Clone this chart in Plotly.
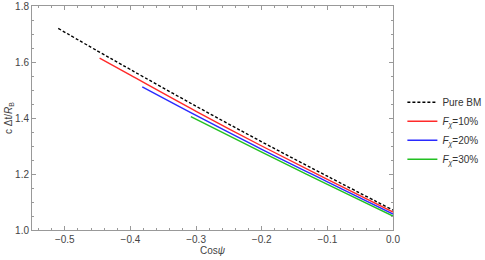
import plotly.graph_objects as go

# Pure BM
bm_x = [-0.51, -0.45, -0.40, -0.30, -0.20, -0.10, 0.00]
bm_y = [1.720, 1.639, 1.573, 1.442, 1.315, 1.192, 1.071]
# F_chi = 10%
f10_x = [-0.447, -0.40, -0.30, -0.20, -0.10, 0.00]
f10_y = [1.614, 1.553, 1.424, 1.300, 1.181, 1.064]
# F_chi = 20%
f20_x = [-0.382, -0.30, -0.20, -0.10, 0.00]
f20_y = [1.511, 1.409, 1.288, 1.172, 1.057]
# F_chi = 30%
f30_x = [-0.308, -0.20, -0.10, 0.00]
f30_y = [1.405, 1.278, 1.163, 1.050]

x_ticks = [-0.5, -0.4, -0.3, -0.2, -0.1, 0.0]
y_ticks = [1.0, 1.2, 1.4, 1.6, 1.8]

series = [
    (bm_x, bm_y, "Pure BM", "black", "3px,2px"),
    (f10_x, f10_y, "<i>F</i><sub><i>χ</i></sub>=10%", "#ff2a2a", "solid"),
    (f20_x, f20_y, "<i>F</i><sub><i>χ</i></sub>=20%", "#2a2aff", "solid"),
    (f30_x, f30_y, "<i>F</i><sub><i>χ</i></sub>=30%", "#22c022", "solid"),
]

fig = go.Figure()
for xs, ys, name, color, dash in series:
    fig.add_trace(go.Scatter(x=xs, y=ys, mode="lines", name=name,
                             line=dict(color=color, width=1.4, dash=dash, shape="spline")))

FONT = "Liberation Sans, Arial"
axis_common = dict(
    showline=True, linecolor="#999999", linewidth=1, mirror="ticks",
    ticks="inside", ticklen=4, tickcolor="#999999", tickwidth=1,
    showgrid=False, zeroline=False, automargin=False,
    tickfont=dict(family=FONT, size=10, color="#444444"),
)

fig.update_xaxes(range=[-0.55, 0.0], tickvals=x_ticks, tickformat=".1f",
                 minor=dict(dtick=0.02, tick0=0, ticks="inside", ticklen=2, tickcolor="#999999"),
                 title=dict(text="Cos<i>ψ</i>", font=dict(family=FONT, size=10, color="#444444"), standoff=0),
                 **axis_common)
fig.update_yaxes(range=[1.0, 1.8], tickvals=y_ticks, tickformat=".1f",
                 minor=dict(dtick=0.05, tick0=1.0, ticks="inside", ticklen=2, tickcolor="#999999"),
                 title=dict(text="c Δt/<i>R</i><sub>B</sub>", font=dict(family=FONT, size=10, color="#444444"), standoff=0),
                 **axis_common)

fig.update_layout(
    width=485, height=260,
    margin=dict(l=32, r=92, t=6, b=30, autoexpand=False),
    paper_bgcolor="white", plot_bgcolor="white",
    showlegend=True,
    legend=dict(x=1.026, y=0.635, xanchor="left", yanchor="top",
                font=dict(family=FONT, size=10, color="#333333"),
                itemwidth=30, tracegroupgap=0, bgcolor="rgba(0,0,0,0)"),
)

fig.write_html("out.html", config={"displayModeBar": False},
               post_script="document.body.style.margin='0';document.body.style.padding='0';")
